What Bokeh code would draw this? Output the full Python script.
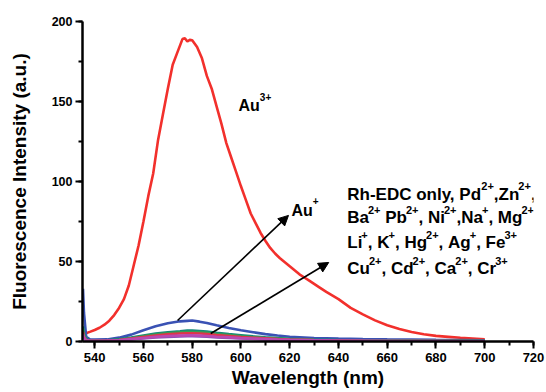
import re
from bokeh.plotting import figure
from bokeh.models import Range1d, SingleIntervalTicker, Label, Arrow, NormalHead
from bokeh.embed import file_html
from bokeh.resources import INLINE

# ---- data ----
red_wl = [535.3, 538, 540, 542, 544, 546, 548, 550, 552, 554, 556, 558, 560, 562, 564, 566,
          568, 570, 572, 574, 576, 577, 578, 579, 580, 582, 584, 586, 588, 590, 592, 594,
          596, 598, 600, 602, 604, 606, 608, 610, 612, 614, 616, 618, 620, 622, 624, 626,
          628, 630, 632, 635, 640, 645, 650, 655, 660, 665, 670, 675, 680, 685, 690, 695, 700]
au3_vals = [4.5, 6, 7.2, 8.6, 10.5, 13, 16.5, 21, 26.5, 35, 47.5, 60, 75, 91, 105, 126,
            142, 158, 173, 181, 189, 189.5, 187.5, 188.5, 188.3, 184, 177, 166, 158, 147, 136, 124,
            115, 106, 97, 88.5, 80, 74, 68, 63, 58.5, 55, 52, 49.5, 47, 44.5, 42, 40,
            38, 36, 34, 31, 26.5, 21, 17, 13.2, 10.2, 7.8, 5.9, 4.5, 3.5, 2.9, 2.3, 1.9, 1.4]

wl = [535.2, 535.6, 536.5, 538, 540, 545, 550, 555, 560, 565, 570, 575, 578, 580, 583, 586,
      590, 595, 600, 605, 610, 615, 620, 630, 640, 650, 660, 670, 680, 690, 700]
au1_vals = [33, 18, 3, 1.4, 1.2, 1.3, 2.4, 4.3, 7.0, 9.5, 11.4, 12.6, 12.9, 13.1, 12.4, 11.6,
            10.1, 8.4, 7.0, 5.8, 4.6, 3.7, 3.0, 2.2, 1.8, 1.5, 1.3, 1.2, 1.0, 0.9, 0.8]
teal_vals = [9.5, 5, 1.5, 0.8, 0.7, 0.8, 1.4, 2.5, 3.8, 4.9, 5.8, 6.4, 6.8, 6.9, 6.6, 6.2,
             5.4, 4.6, 3.9, 3.2, 2.6, 2.1, 1.7, 1.2, 0.9, 0.7, 0.6, 0.5, 0.5, 0.4, 0.4]
green_vals = [8, 4, 1.2, 0.7, 0.6, 0.7, 1.2, 2.2, 3.4, 4.4, 5.2, 5.8, 6.1, 6.1, 5.9, 5.5,
              4.8, 4.1, 3.4, 2.8, 2.3, 1.9, 1.5, 1.1, 0.8, 0.6, 0.5, 0.5, 0.4, 0.4, 0.3]
reds_vals = [6, 3, 1.0, 0.6, 0.5, 0.6, 1.0, 1.9, 2.9, 3.8, 4.5, 5.0, 5.2, 5.2, 5.0, 4.7,
             4.1, 3.5, 2.9, 2.4, 2.0, 1.6, 1.3, 0.9, 0.7, 0.5, 0.4, 0.4, 0.3, 0.3, 0.3]
purple_vals = [3.5, 2, 0.6, 0.4, 0.3, 0.4, 0.7, 1.2, 1.8, 2.4, 2.8, 3.1, 3.2, 3.2, 3.1, 2.9,
               2.5, 2.1, 1.8, 1.5, 1.2, 1.0, 0.8, 0.6, 0.4, 0.3, 0.3, 0.2, 0.2, 0.2, 0.2]
magenta_vals = [4.5, 2.5, 0.8, 0.5, 0.4, 0.5, 0.8, 1.5, 2.2, 2.9, 3.4, 3.7, 3.8, 3.8, 3.7, 3.4,
                3.0, 2.6, 2.1, 1.8, 1.5, 1.2, 1.0, 0.7, 0.5, 0.4, 0.3, 0.3, 0.3, 0.2, 0.2]

x_label = "Wavelength (nm)"
y_label = "Fluorescence Intensity (a.u.)"

# "^{..}" marks a superscript
au3_text = "Au^{3+}"
au1_text = "Au^{+}"
others_lines = ["Rh-EDC only, Pd^{2+},Zn^{2+},",
                "Ba^{2+} Pb^{2+}, Ni^{2+},Na^{+}, Mg^{2+}",
                "Li^{+}, K^{+}, Hg^{2+}, Ag^{+}, Fe^{3+}",
                "Cu^{2+}, Cd^{2+}, Ca^{2+}, Cr^{3+}"]

# annotation anchors (data coords)
au3_pos = (599.0, 147.5)
au1_pos = (620.7, 81.9)
others_x = 643.6
others_y = [92.1, 77.2, 61.6, 45.6]
arrow1 = (574.0, 13.1, 619.5, 78.8)
arrow2 = (587.6, 5.0, 636.0, 49.4)

FONT = "Liberation Sans"

# Arial/Liberation Sans Bold advance widths (1/1000 em)
ADV = {' ': 278, '\u00a0': 278, ',': 278, '-': 333, '.': 278, '+': 584, '2': 556, '3': 556,
       'A': 722, 'B': 722, 'C': 722, 'D': 722, 'E': 667, 'F': 611, 'H': 722, 'K': 722,
       'L': 611, 'M': 833, 'N': 722, 'P': 667, 'R': 722, 'Z': 611, 'I': 278,
       'a': 556, 'b': 611, 'c': 556, 'd': 611, 'e': 556, 'g': 611, 'h': 611, 'i': 278,
       'l': 278, 'n': 611, 'o': 611, 'r': 389, 'u': 611, 'y': 556, 's': 556, 't': 333}


def text_width(s, size):
    return sum(ADV.get(c, 556) for c in s) / 1000.0 * size


def rich_label(p, x, y, markup, size, sup_size, sup_raise, sup_pull=1.0):
    parts = re.split(r"(\^\{[^}]*\})", markup)
    off = 0.0
    for part in parts:
        if not part:
            continue
        if part.startswith("^{"):
            t = part[2:-1]
            fs, yo = sup_size, sup_raise
            off -= sup_pull
        else:
            t = part.replace(" ", "\u00a0")
            fs, yo = size, 0
        p.add_layout(Label(x=x, y=y, x_offset=off, y_offset=yo, text=t, text_font=FONT,
                           text_font_style="bold", text_font_size=f"{fs}px",
                           text_color="black", text_baseline="alphabetic"))
        off += text_width(t, fs)


p = figure(width=546, height=392, output_backend="svg", toolbar_location=None,
           x_range=Range1d(535.0, 720), y_range=Range1d(0, 200),
           min_border_left=82, min_border_right=13, min_border_top=21, min_border_bottom=51)
p.outline_line_color = None
p.xgrid.visible = False
p.ygrid.visible = False
p.background_fill_color = "white"
p.border_fill_color = "white"

for ax in (p.xaxis[0], p.yaxis[0]):
    ax.axis_line_width = 2.5
    ax.axis_line_color = "black"
    ax.major_tick_line_width = 2
    ax.minor_tick_line_width = 2
    ax.major_tick_in = 0
    ax.major_tick_out = 7
    ax.minor_tick_in = 0
    ax.minor_tick_out = 4
    ax.major_label_text_font = FONT
    ax.major_label_text_font_style = "bold"
    ax.major_label_text_color = "black"
    ax.axis_label_text_font = FONT
    ax.axis_label_text_font_style = "bold"
    ax.axis_label_text_font_size = "19px"
    ax.axis_label_text_color = "black"

p.xaxis.ticker = SingleIntervalTicker(interval=20, num_minor_ticks=2)
p.yaxis.ticker = SingleIntervalTicker(interval=50, num_minor_ticks=2)
p.xaxis.major_label_text_font_size = "13px"
p.yaxis.major_label_text_font_size = "12.5px"
p.xaxis.major_label_standoff = 4
p.yaxis.major_label_standoff = 3
p.xaxis.axis_label = x_label
p.yaxis.axis_label = y_label
p.xaxis.axis_label_standoff = 2
p.yaxis.axis_label_standoff = 19

# curves
p.line(red_wl, au3_vals, line_color="#f2302c", line_width=2.6)
p.line(wl, au1_vals, line_color="#3a52b4", line_width=2.6)
p.line(wl, teal_vals, line_color="#14897a", line_width=2.6)
p.line(wl, green_vals, line_color="#3a9a50", line_width=2.2)
p.line(wl, reds_vals, line_color="#e0344a", line_width=2.4)
p.line(wl, purple_vals, line_color="#8a50b4", line_width=2.4)
p.line(wl, magenta_vals, line_color="#b848b0", line_width=2.6)

# arrows
for (x0, y0, x1, y1) in (arrow1, arrow2):
    p.add_layout(Arrow(x_start=x0, y_start=y0, x_end=x1, y_end=y1,
                       line_width=1.6, line_color="black",
                       end=NormalHead(size=10, fill_color="black", line_color="black", line_width=1)))

# labels
rich_label(p, au3_pos[0], au3_pos[1], au3_text, 16, 10, 9, 0)
rich_label(p, au1_pos[0], au1_pos[1], au1_text, 16, 10, 9, 0)
for t, yy in zip(others_lines, others_y):
    rich_label(p, others_x, yy, t, 17, 11, 8, 1.0)

open("out.html", "w").write(file_html(p, INLINE))
